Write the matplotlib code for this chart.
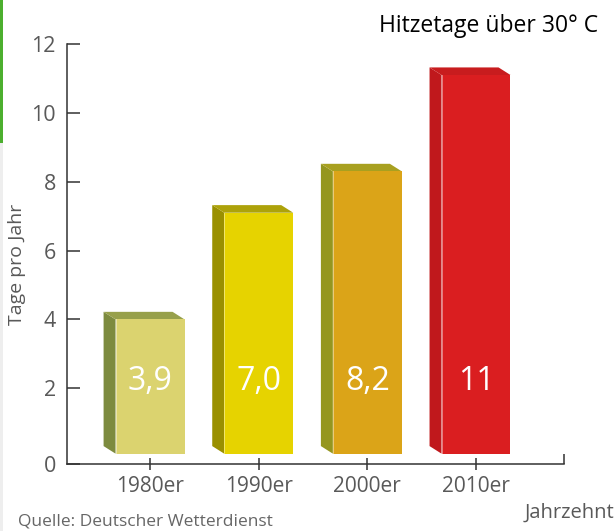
import numpy as np
import matplotlib
matplotlib.use('Agg')
import matplotlib.pyplot as plt
from matplotlib.patches import Polygon, Rectangle

plt.rcParams['font.family'] = ['Open Sans', 'DejaVu Sans']

# ---- DATA ----
decades   = ['1980er', '1990er', '2000er', '2010er']
hot_days  = [3.9, 7.0, 8.2, 11]
labels    = ['3,9', '7,0', '8,2', '11']
y_ticks   = [0, 2, 4, 6, 8, 10, 12]

# ---- STYLE ----
front_col = ['#dbd36f', '#e6d300', '#dba418', '#da1e20']
side_col  = ['#7d8b3f', '#9a9000', '#95961f', '#c0181c']
top_col   = ['#97a04b', '#ada20a', '#a8a020', '#c81c1e']
BAR_W     = 0.635
BAR_BASE  = 0.1
DX, DY    = -0.11, 0.22     # oblique depth offset (data units)
YMIN      = -0.2
TXT_GRAY  = '#595959'

fig = plt.figure(figsize=(6.16, 5.31), dpi=100)
ax = fig.add_axes([0.1088, 0.1262, 0.8068, 0.7909])

x = np.arange(len(decades))
ax.bar(x, hot_days, width=BAR_W, bottom=BAR_BASE, color=front_col, zorder=3)

for i, v in enumerate(hot_days):
    x0, x1 = x[i] - BAR_W / 2, x[i] + BAR_W / 2
    top = BAR_BASE + v
    side = Polygon([(x0, BAR_BASE), (x0, top), (x0 + DX, top + DY), (x0 + DX, BAR_BASE + DY)],
                   closed=True, facecolor=side_col[i], edgecolor='none', zorder=2)
    lid = Polygon([(x0, top), (x1, top), (x1 + DX, top + DY), (x0 + DX, top + DY)],
                  closed=True, facecolor=top_col[i], edgecolor='none', zorder=2)
    ax.add_patch(side)
    ax.add_patch(lid)
    ax.plot([x0, x0], [BAR_BASE, top], color='white', lw=0.6, alpha=0.5, zorder=4)
    ax.text(x[i], 2.2, labels[i], color='white', fontsize=23, ha='center', va='center', zorder=5)

xmin, xmax = -0.764, 3.81
ax.set_xlim(xmin, xmax)
ax.set_ylim(YMIN, 12)

ax.set_xticks(x)
ax.set_xticklabels(decades)
ax.set_xticks([xmax], minor=True)
ax.set_yticks([t if t > 0 else YMIN for t in y_ticks])
ax.set_yticklabels([str(t) for t in y_ticks])

for s in ['top', 'right']:
    ax.spines[s].set_visible(False)
for s in ['left', 'bottom']:
    ax.spines[s].set_color('#333333')
    ax.spines[s].set_linewidth(1.1)

ax.tick_params(axis='y', direction='in', length=9, width=1.1, color='#333333',
               labelsize=15.5, labelcolor=TXT_GRAY, pad=8)
ax.tick_params(axis='x', which='major', direction='inout', length=9, width=1.1, color='#333333',
               labelsize=15, labelcolor=TXT_GRAY, pad=4)
ax.tick_params(axis='x', which='minor', direction='in', length=7.5, width=1.1, color='#333333')

ax.set_ylabel('Tage pro Jahr', fontsize=14, color=TXT_GRAY)
ax.yaxis.set_label_coords(-0.082, 0.476)

fig.text(0.971, 0.951, 'Hitzetage über 30° C', fontsize=16.5, color='black', ha='right', va='center')
fig.text(0.997, 0.035, 'Jahrzehnt', fontsize=14.5, color=TXT_GRAY, ha='right', va='center')
fig.text(0.029, 0.018, 'Quelle: Deutscher Wetterdienst', fontsize=12.5, color='#666666',
         ha='left', va='center')

# green marker strip at left edge
fig.patches.append(Rectangle((0, 1 - 143 / 531), 3 / 616, 143 / 531, transform=fig.transFigure,
                             facecolor='#4caf2f', edgecolor='none'))
fig.patches.append(Rectangle((0, 0), 3 / 616, 1 - 143 / 531, transform=fig.transFigure,
                             facecolor='#eeeeee', edgecolor='none'))

fig.savefig('out.png', dpi=100)
